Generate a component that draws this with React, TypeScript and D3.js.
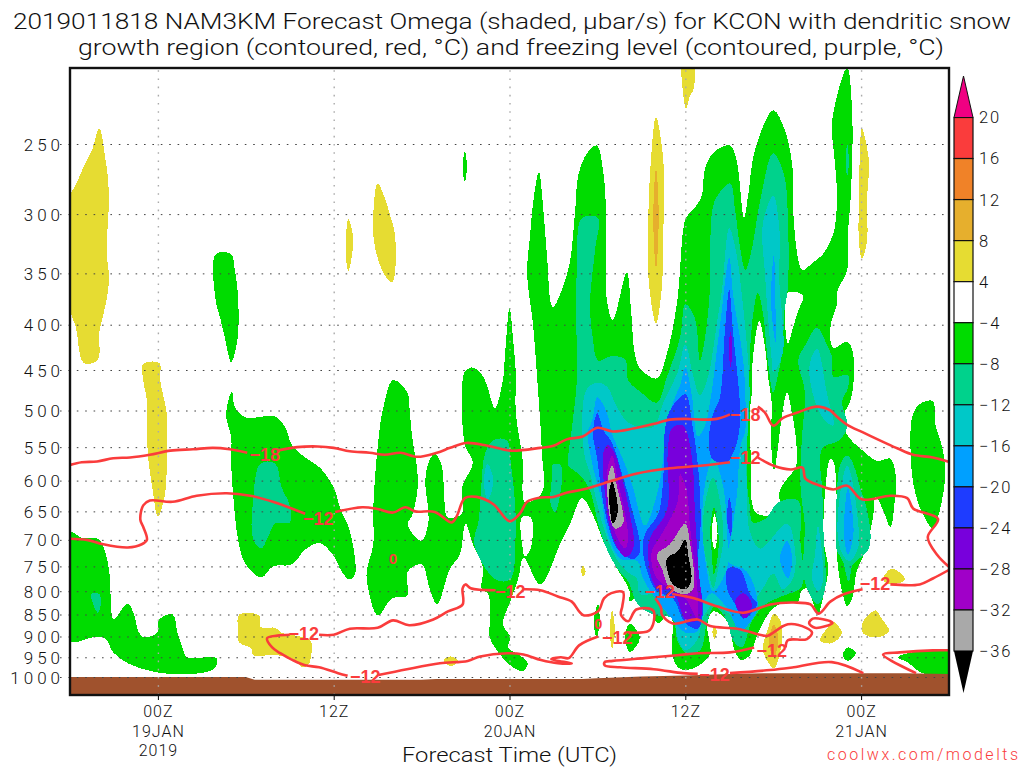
import { useEffect, useRef } from "react";
import * as d3 from "d3";

type Pt = [number, number]; // [hours since 18Z 18 Jan, hPa]

const pressureTicks = [250, 300, 350, 400, 450, 500, 550, 600, 650, 700, 750, 800, 850, 900, 950, 1000];
const timeTicks = [6, 18, 30, 42, 54];
const timeLabels = [["00Z", "19JAN", "2019"], ["12Z"], ["00Z", "20JAN"], ["12Z"], ["00Z", "21JAN"]];
const legendLabels = ["20", "16", "12", "8", "4", "−4", "−8", "−12", "−16", "−20", "−24", "−28", "−32", "−36"];
const legendColors = ["#fa3c3c", "#f08228", "#e6af2d", "#e6dc32", "#ffffff", "#00dc00", "#00d28c", "#00c8c8", "#00a0ff", "#1e3cff", "#7800dc", "#a000c8", "#a9a9a9"];

const surface: Pt[] = [[0, 1000], [12, 1000], [12.6, 1007], [24, 1007], [25, 1005], [35, 1005], [36, 1003], [39, 999], [42, 996], [45, 992], [48, 990], [57, 990], [60, 992]];

// omega +4 to +8
const yellowAreas: Pt[][] = [
  [[2, 240], [1.5, 254], [0.9, 266], [0.35, 279], [0, 286], [0, 383], [0.4, 403], [0.95, 442], [1.9, 438], [2, 408], [2.3, 388], [2.6, 366], [2.65, 350], [2.5, 332], [2.65, 292], [2.6, 274], [2.4, 259]],
  [[5, 443], [6.1, 442], [6.15, 462], [6.6, 504], [6.6, 556], [6.5, 620], [6, 659], [5.65, 616], [5.3, 556], [5.25, 488], [5, 462]],
  [[19, 304], [19.3, 316], [19.3, 329], [19, 348], [18.85, 338], [18.85, 316]],
  [[21, 277], [20.7, 301], [20.8, 326], [21.5, 352], [22, 358], [22.2, 318], [21.85, 301], [21.5, 288]],
  [[40, 233], [39.65, 261], [39.45, 316], [39.5, 357], [40, 399], [40.4, 363], [40.5, 316], [40.5, 261]],
  [[41.85, 200], [41.85, 219], [42.05, 228], [42.3, 221], [42.55, 217], [42.55, 200]],
  [[54.05, 240], [54.4, 252], [54.55, 265], [54.4, 288], [54.4, 322], [54.05, 337], [53.85, 322], [53.85, 288], [53.9, 261]],
  [[11.55, 850], [12.9, 852], [13, 878], [14, 880], [14.45, 891], [16.4, 909], [16.5, 933], [16.25, 970], [15.9, 975], [15, 950], [13.65, 945], [12.5, 945], [12.4, 929], [11.55, 914], [11.45, 880]],
  [[25.5, 957], [26, 948], [26.5, 959], [26, 972]],
  [[35, 748], [35.2, 760], [35, 770], [34.9, 760]],
  [[37, 841], [37.2, 887], [37, 929], [36.85, 887]],
  [[44, 875], [44.15, 890], [44, 905], [43.85, 890]],
  [[48.05, 848], [48.5, 865], [48.6, 909], [48.05, 977], [47.3, 933], [47.6, 887]],
  [[52, 865], [52.7, 891], [52, 916], [51.2, 909], [51.7, 880]],
  [[55, 841], [55.4, 859], [55.9, 887], [55.15, 902], [54.15, 893], [54.05, 872], [54.4, 854]],
  [[56.1, 754], [57, 776], [56, 786], [55.5, 776]],
];
// omega +8 to +12
const goldAreas: Pt[][] = [
  [[40, 267], [39.85, 285], [39.85, 322], [40, 345], [40.15, 322], [40.15, 285]],
  [[48.05, 872], [48.35, 905], [48.05, 950], [47.7, 915]],
];

// omega -4 to -8
const greenAreas: Pt[][] = [
  [[26.95, 255], [27.1, 265], [26.95, 276], [26.8, 265]],
  [[9.95, 333], [11, 333], [11.25, 347], [11.45, 368], [11.45, 413], [11, 441], [10.6, 416], [10.25, 393], [9.95, 376]],
  [[0, 686], [0.8, 696], [1.9, 698], [2.4, 722], [2.7, 766], [2.85, 850], [3, 861], [3.95, 826], [4.45, 859], [4.65, 887], [5.05, 902], [5.95, 891], [6.1, 861], [7, 850], [7.35, 893], [7.7, 929], [8, 950], [10, 952], [9.9, 977], [8.9, 990], [7, 992], [5.8, 987], [3.95, 965], [2.95, 938], [2.4, 904], [1.55, 902], [0, 911]],
  [[11.05, 476], [11.25, 495], [11.95, 509], [14, 508], [14.7, 523], [15.15, 547], [16.05, 565], [17.05, 580], [18, 611], [18.45, 645], [19.1, 684], [19.45, 766], [19.05, 776], [18.55, 760], [17.95, 728], [17.05, 706], [16.05, 718], [15.15, 746], [13.85, 750], [13.05, 772], [11.95, 744], [11.45, 696], [11.25, 654], [11, 574], [11, 535], [10.65, 506]],
  [[22.05, 462], [23, 476], [23.2, 504], [23.35, 535], [23.75, 600], [23.4, 654], [23.05, 673], [24, 702], [24.45, 671], [24.45, 648], [24.25, 600], [24.45, 574], [24.9, 559], [25.4, 579], [25.5, 605], [25.6, 644], [25.75, 660], [26.75, 654], [26.75, 611], [27.5, 572], [27, 550], [26.75, 504], [26.8, 462], [26.95, 452], [27.45, 447], [28.1, 455], [28.45, 468], [29, 497], [29.55, 462], [29.7, 431], [30, 383], [30.25, 416], [30.45, 462], [30.4, 488], [30.5, 516], [30.9, 569], [30.9, 620], [31.05, 635], [32.2, 620], [32.2, 554], [31.9, 462], [31.6, 399], [31.2, 350], [31.4, 318], [31.6, 292], [32, 269], [32.3, 295], [32.55, 333], [32.95, 382], [34, 347], [34.45, 302], [34.7, 271], [35.3, 256], [35.95, 251], [36.4, 269], [36.6, 302], [36.65, 376], [37.05, 395], [38, 349], [38.3, 386], [38.55, 431], [38.9, 448], [40.05, 460], [40.75, 431], [41.45, 376], [41.85, 313], [42.05, 303], [42.85, 292], [43.15, 285], [43.35, 266], [44, 255], [45.05, 251], [45.5, 261], [46, 303], [46.3, 285], [46.75, 254], [48, 229], [48.75, 240], [49.3, 264], [49.35, 295], [49.7, 337], [50, 347], [50.65, 341], [51.4, 333], [51.9, 322], [52.2, 311], [52.35, 285], [52.15, 256], [52, 239], [52.4, 219], [53.05, 205], [53.4, 234], [53.3, 285], [53.1, 316], [53.05, 347], [52.4, 366], [52.35, 379], [51.9, 403], [52.1, 425], [53.05, 418], [53.45, 431], [53.45, 471], [53.25, 488], [52.7, 513], [53.15, 536], [53.95, 552], [55.1, 570], [56, 567], [56.4, 600], [56.3, 632], [56, 677], [55.5, 648], [55, 625], [54.8, 663], [54.25, 722], [53.7, 760], [53.4, 814], [53.05, 832], [52.7, 800], [52.35, 728], [52.35, 644], [52.1, 570], [51.9, 567], [51.55, 616], [51.45, 702], [51.75, 754], [51.45, 806], [51.05, 850], [50.7, 822], [50.3, 794], [49.9, 800], [49.7, 822], [48.65, 824], [47.8, 843], [46.9, 898], [46.4, 945], [45.85, 957], [45.4, 938], [44.85, 865], [43.9, 843], [43.5, 872], [43.7, 940], [43.15, 965], [42.1, 982], [41.5, 975], [41.1, 940], [41.15, 872], [40.95, 843], [40.15, 870], [39.6, 836], [39.05, 806], [38.2, 822], [38.2, 800], [37.05, 740], [36.3, 696], [35.85, 665], [34.95, 628], [34.15, 671], [33.45, 708], [32.1, 786], [31.05, 735], [30.9, 735], [30.6, 774], [30.05, 822], [29.55, 872], [30.05, 902], [29.9, 926], [30.7, 945], [31.25, 965], [30.9, 985], [30.05, 970], [29.5, 950], [29, 926], [28.65, 902], [28.65, 865], [28.55, 806], [28.1, 794], [28.2, 754], [27.5, 708], [27, 671], [26.6, 728], [25.95, 754], [25.05, 828], [24.55, 794], [24, 746], [23.05, 760], [23, 810], [22, 815], [21, 852], [20.35, 794], [20.25, 760], [20.7, 708], [20.7, 644], [21.05, 540], [21.4, 495]],
  [[36.05, 826], [36.15, 865], [35.95, 904], [35.75, 865]],
  [[38.2, 870], [38.9, 904], [38.2, 938], [37.9, 902]],
  [[53.1, 926], [53.65, 940], [53.1, 959], [52.75, 945]],
  [[58.9, 488], [59.05, 518], [59.5, 547], [59.75, 589], [59.25, 660], [58.9, 680], [58.2, 654], [57.7, 620], [57.4, 569], [57.55, 504], [58.15, 490]],
  [[56.5, 950], [57.55, 938], [60.2, 938], [60.2, 990], [58.2, 990], [57.15, 962]],
];
// weak omega pockets inside the green area
const calmPockets: Pt[][] = [
  [[49, 368], [50.05, 371], [49.7, 386], [49.35, 403], [49, 421]],
  [[47.05, 396], [47.45, 425], [47.65, 458], [47.9, 490], [47.85, 540], [48.05, 584], [48.35, 547], [48.55, 513], [48.95, 477], [49.3, 506], [49.5, 529], [49.55, 579], [48.95, 597], [48.45, 616], [48.35, 654], [46.9, 654], [46.55, 636], [46.5, 584], [46.4, 504], [46.55, 475], [46.6, 439]],
  [[30.85, 660], [31.45, 660], [31.45, 716], [31.05, 731], [30.9, 716]],
];
// omega -8 to -12
const tealAreas: Pt[][] = [
  [[1.45, 806], [2, 806], [2.1, 828], [1.9, 846], [1.65, 833]],
  [[13, 574], [14, 574], [14.45, 611], [15, 640], [15, 669], [14, 671], [13.5, 696], [13.05, 716], [12.5, 698], [12.5, 632]],
  [[28.9, 540], [29.8, 540], [30.1, 575], [30.4, 646], [30.4, 702], [30.05, 776], [29.05, 776], [27.6, 708], [27.9, 665], [28.05, 616], [28.35, 558]],
  [[32.95, 576], [33.5, 576], [33.5, 616], [33.1, 652], [32.8, 636], [32.9, 595]],
  [[34.95, 303], [36.05, 303], [35.85, 328], [35.5, 379], [35.7, 416], [36.05, 439], [37, 434], [37.9, 438], [38.1, 462], [39.05, 478], [40.05, 490], [40.75, 458], [41.65, 413], [42, 379], [42.65, 393], [43, 439], [43.5, 396], [43.7, 357], [43.7, 328], [44, 290], [45.05, 277], [45.4, 297], [45.75, 328], [46.1, 347], [46.55, 328], [47.1, 290], [48, 256], [48.75, 271], [49, 303], [49, 363], [48.75, 388], [48.65, 425], [48.35, 454], [48, 477], [47.65, 442], [47.3, 388], [46.95, 368], [46.55, 399], [46.4, 442], [46.3, 504], [46.2, 600], [46.4, 640], [46.6, 669], [47.45, 663], [48.35, 635], [49.7, 632], [49.85, 702], [49.95, 790], [48.65, 810], [47.45, 828], [46.55, 865], [45.85, 926], [45.25, 909], [44.85, 865], [44, 832], [43.5, 865], [43, 933], [42.1, 940], [41.45, 909], [41.15, 859], [39.8, 850], [38.75, 828], [38.1, 780], [37.35, 754], [36.5, 708], [36.05, 671], [35.5, 616], [34.95, 595], [34.15, 580], [34, 577], [34.25, 525], [34.6, 462], [34.55, 393], [34.6, 345]],
  [[51, 403], [51.65, 421], [52, 434], [52.1, 458], [53.1, 456], [53.1, 472], [52.7, 488], [53.05, 520], [52.55, 540], [51.4, 550], [51.2, 565], [51.35, 616], [51.45, 702], [51.55, 794], [51.05, 828], [50.15, 780], [50.15, 671], [49.95, 632], [49.85, 600], [49.95, 540], [50.15, 475], [49.7, 439], [50.15, 423]],
  [[53.05, 562], [53.45, 574], [54.05, 620], [54.25, 632], [54.65, 696], [54.4, 722], [53.45, 746], [53.15, 780], [52.75, 740], [52.3, 716], [52.3, 689], [52.35, 616], [52.6, 574]],
  [[53.05, 250], [53.17, 262], [53.05, 272], [52.95, 262]],
];
// omega -12 to -16
const cyanAreas: Pt[][] = [
  [[28.5, 574], [28.9, 600], [28.5, 632], [28.25, 600]],
  [[35.3, 472], [36.05, 465], [36.7, 471], [37.2, 490], [38.1, 516], [39.8, 522], [40.5, 490], [41.45, 454], [42, 421], [42.55, 458], [43, 481], [43.55, 458], [44.15, 399], [44.5, 366], [45, 311], [45.5, 333], [45.85, 369], [46.2, 421], [46.4, 477], [46.2, 550], [46.2, 616], [46.4, 684], [47.1, 716], [48.95, 671], [49.5, 722], [49.35, 774], [48.65, 796], [48, 764], [47.3, 794], [46.6, 828], [45.95, 872], [45.5, 859], [44.35, 836], [43.9, 828], [43.2, 859], [42.8, 909], [42, 933], [41.45, 900], [41.15, 836], [40.3, 806], [38.9, 806], [38.7, 774], [38.2, 764], [37.55, 746], [36.65, 696], [36.05, 644], [35.5, 589], [35.15, 565], [34.95, 513]],
  [[48, 286], [48.45, 316], [48.4, 353], [48.65, 431], [48, 453], [47.9, 439], [47.65, 393], [47.45, 353], [47.3, 307]],
  [[51, 426], [51.65, 477], [52.1, 520], [51.4, 510], [50.65, 475], [50.5, 442]],
  [[51.05, 675], [51.35, 732], [51.35, 786], [51.05, 800], [50.65, 774], [50.85, 728]],
  [[53.05, 577], [53.4, 600], [53.8, 671], [53.85, 708], [53.25, 740], [52.75, 728], [52.4, 689], [52.6, 616]],
];
// omega -16 to -20
const skyAreas: Pt[][] = [
  [[36, 483], [36.65, 503], [37, 532], [37.7, 565], [38.4, 608], [38.9, 656], [39.25, 675], [39.95, 632], [40.4, 584], [40.6, 540], [41.1, 493], [41.65, 468], [42, 447], [42.45, 481], [42.85, 535], [43.35, 520], [43.7, 488], [44.35, 403], [45, 336], [45.25, 369], [45.95, 439], [46.1, 484], [46.1, 526], [45.75, 550], [45.55, 616], [45.15, 693], [44.9, 740], [46.2, 760], [46.95, 828], [46.6, 859], [45.75, 887], [44.85, 836], [43.8, 804], [43.2, 828], [42.85, 887], [42, 891], [40.95, 854], [39.95, 815], [39.05, 770], [38.75, 740], [37.55, 735], [36.65, 684], [36.3, 632], [35.7, 580], [35.35, 529], [35.65, 513]],
  [[48.05, 333], [48.15, 376], [48.15, 419], [47.85, 376]],
  [[48.95, 702], [49.3, 735], [49, 774], [48.45, 735]],
  [[53.1, 611], [53.45, 663], [53.45, 696], [53.1, 728], [52.85, 696], [52.9, 644]],
];
// the island of weaker ascent near 700 hPa at 14Z
const islandCyan: Pt[] = [[43.9, 565], [44.6, 611], [44.85, 689], [44.85, 754], [43.9, 800], [43.35, 735], [43.15, 671], [43.35, 605]];
const islandTeal: Pt[] = [[43.9, 595], [44.35, 632], [44.6, 696], [44.25, 754], [43.9, 794], [43.55, 754], [43.2, 696], [43.35, 636]];
const islandGreen: Pt[] = [[43.95, 643], [44.25, 684], [44.25, 722], [43.95, 766], [43.8, 722], [43.7, 684]];
const islandWhite: Pt[] = [[44, 655], [44.2, 689], [44, 718], [43.8, 689]];
// omega -20 to -24
const blueAreas: Pt[][] = [
  [[36, 503], [36.4, 526], [37, 544], [37.75, 595], [38.2, 632], [38.9, 722], [38.45, 736], [37.35, 716], [36.85, 684], [36.4, 636], [36, 569], [35.7, 529]],
  [[42, 479], [42.45, 516], [42.85, 574], [43.05, 671], [42.85, 746], [43.2, 828], [43.15, 859], [42.85, 882], [42, 869], [41.15, 815], [40.05, 800], [39.4, 760], [39.1, 716], [39.25, 689], [40.15, 654], [40.5, 595], [40.6, 527], [40.95, 500]],
  [[45, 365], [45.25, 407], [45.55, 454], [45.75, 504], [45.6, 538], [45.25, 559], [44.85, 572], [43.9, 569], [43.6, 544], [43.9, 504], [44.35, 484], [44.7, 407]],
  [[45, 627], [45.2, 657], [45.1, 693], [44.85, 665]],
  [[44.9, 754], [45.75, 756], [46.4, 806], [46.9, 828], [45.95, 859], [45.4, 828], [44.85, 794]],
];
// omega -24 to -28
const violetAreas: Pt[][] = [
  [[36.7, 547], [37.2, 559], [37.55, 584], [38.1, 640], [38.45, 716], [37.9, 732], [37.05, 696], [36.5, 616], [36.4, 559]],
  [[41.85, 520], [42.45, 565], [42.65, 648], [42.85, 740], [43, 859], [42.1, 865], [41.15, 800], [40.05, 794], [39.45, 728], [39.6, 696], [40.75, 648], [40.8, 559], [41.1, 523]],
  [[45.95, 804], [46.55, 828], [46.1, 859], [45.4, 822]],
  [[45.1, 407], [45.2, 425], [45.1, 447], [44.95, 425]],
];
// omega -28 to -32
const magentaAreas: Pt[][] = [
  [[37, 562], [37.35, 595], [38.1, 696], [37.9, 716], [37.35, 696], [36.85, 657], [36.65, 589]],
  [[41.65, 590], [42.1, 616], [42.3, 671], [42.85, 810], [42.8, 859], [42, 815], [40.05, 774], [39.7, 722], [40.25, 696], [41.45, 636]],
];
// omega -32 to -36
const grayAreas: Pt[][] = [
  [[37, 577], [37.35, 611], [37.75, 671], [37.2, 680], [36.85, 660], [36.7, 600]],
  [[42, 671], [42.3, 702], [42.55, 794], [42.1, 806], [40.95, 794], [40.4, 754], [40.05, 728], [40.95, 708]],
];
// omega below -36
const blackAreas: Pt[][] = [
  [[37, 602], [37.35, 632], [37.35, 657], [37.05, 671], [36.85, 645], [36.8, 616]],
  [[42, 700], [42.2, 728], [42.4, 780], [42, 796], [41.15, 786], [40.75, 754], [40.75, 734], [41.45, 722]],
];

// temperature contours, broken where the labels sit
const contourMinus18: Pt[][] = [
  [[0, 576], [0.8, 572], [1.85, 571], [2.95, 566], [4.1, 565], [5.45, 561], [6.85, 555], [8.4, 553], [9.75, 551], [10.9, 553], [12.1, 558]],
  [[14.15, 555], [15.5, 550], [16.9, 549], [18, 551], [19.1, 556], [20.45, 558], [21.5, 561], [22.55, 558], [23.7, 564], [25.05, 558], [25.95, 551], [27.05, 544], [28.5, 548], [30.05, 555], [32.1, 551], [33, 548], [33.9, 539], [35, 535], [36, 523], [37.05, 528], [38.45, 524], [39.8, 518], [40.95, 512], [42, 511], [43.2, 512], [44.15, 511], [45.05, 505]],
  [[46.95, 495], [47.45, 503], [48, 520], [48.65, 510], [49.6, 503], [51, 495], [51.9, 500], [52.4, 509], [53.05, 519], [54.2, 530], [56.5, 552], [57.55, 561], [58.9, 565], [60.1, 572]],
];
const contourMinus12: Pt[][] = [
  [[0.05, 698], [1.15, 700], [2.25, 708], [3.95, 714], [4.9, 708], [5.25, 700], [5, 677], [4.8, 664], [5, 640], [5.45, 632], [7, 634], [8.65, 624], [10.7, 620], [12.3, 624], [13.85, 634], [16.05, 654]],
  [[18.1, 651], [19.95, 643], [21, 646], [22.05, 652], [22.9, 643], [23.55, 650], [24.9, 651], [26.05, 669], [26.4, 658], [26.95, 628], [27.75, 626], [28.9, 638], [30, 667], [30.7, 654], [31.2, 634], [32.1, 627], [33, 626], [33.95, 619], [35, 614], [37.05, 600], [38.7, 589], [40.95, 581], [43.2, 577], [45.05, 572]],
  [[46.95, 565], [48, 577], [49.2, 583], [50, 580], [50.2, 597], [51.2, 608], [52.1, 614], [53.05, 608], [54.05, 630], [56, 624], [57.15, 628], [57.55, 645], [59.25, 663], [58.55, 695], [59.2, 728], [60.05, 752]],
  [[60.05, 756], [58.9, 774], [58, 786], [56, 786]],
  [[54.1, 796], [52.85, 806], [51.9, 822], [51.1, 848], [50.55, 828], [49.4, 824], [47.8, 828], [45.95, 846], [44.15, 832], [42.6, 815], [41.1, 806]],
  [[39.95, 815], [40.35, 836], [40.4, 850], [41.15, 870], [42.85, 861], [43.7, 876], [45.55, 882], [47.35, 898], [47.65, 898], [49, 872], [50.25, 880], [50.65, 891], [50.3, 906], [49, 909], [48.85, 926]],
  [[46.7, 926], [45.05, 938], [42.8, 940], [41.45, 945], [39.2, 952], [37.05, 959], [36.5, 962], [36.5, 970], [37.55, 975], [39.85, 980], [41.85, 990], [42.85, 992]],
  [[45.05, 990], [47.8, 982], [49.4, 975], [52, 962], [54.15, 990]],
  [[57.75, 990], [55.5, 943], [56.65, 938], [58.9, 933], [60.05, 933]],
  [[51.1, 859], [51.9, 865], [52.05, 869], [50.85, 880], [50.45, 869], [50.7, 859], [51.1, 859]],
  [[30.95, 796], [32.1, 798], [33.3, 811], [34.25, 822], [34.75, 843], [35.1, 852], [36.05, 843], [36.45, 815], [36.95, 804], [37.75, 802], [37.7, 832], [37.6, 850], [38.1, 865], [38.65, 839], [39.8, 841], [39.8, 872], [39.5, 887], [38.1, 891]],
  [[36.05, 900], [34.75, 921], [34.05, 952], [33.5, 950], [32.85, 955], [34.25, 965], [33.3, 965], [32.15, 957], [30.95, 943], [29.85, 940], [28, 948], [27.15, 959], [25.25, 965], [23, 980], [21.05, 995]],
  [[18.95, 997], [18.3, 990], [17, 975], [16.05, 970], [15.2, 957], [14.35, 940], [13.8, 926], [13.45, 904], [14.15, 898], [15, 896]],
  [[17, 896], [18, 896], [19.1, 882], [21, 880], [22.05, 863], [23.15, 874], [24.8, 861], [25.8, 843], [26.8, 828], [26.8, 794], [27, 786], [27.35, 794], [29.05, 798]],
];
const contourLabels: [number, number, string][] = [
  [13.3, 561, "−18"], [46.1, 505, "−18"],
  [16.95, 663, "−12"], [46.1, 565, "−12"], [30.05, 800, "−12"], [40.25, 800, "−12"], [54.95, 784, "−12"],
  [15.95, 893, "−12"], [20.15, 1000, "−12"], [37.35, 902, "−12"], [47.9, 933, "−12"], [44, 994, "−12"],
  [22.05, 734, "0"], [36.05, 870, "0"],
];

const W = 1024;
const H = 768;
const plot = { left: 70, right: 949, top: 68, bottom: 695 };
const RED = "#fa3c3c";
const FONT = "Roboto, 'Liberation Sans', sans-serif";

export default function App() {
  const svgRef = useRef<SVGSVGElement | null>(null);

  useEffect(() => {
    const svg = d3.select(svgRef.current);
    svg.selectAll("*").remove();

    const x = d3.scaleLinear().domain([0, 60]).range([plot.left, plot.right]);
    // 250 and 1000 hPa gridlines sit at these rows, the rest extrapolates
    const y = d3.scaleLog().domain([250, 1000]).range([144, 677]);
    const pw = plot.right - plot.left;
    const ph = plot.bottom - plot.top;

    const defs = svg.append("defs");
    defs.append("clipPath").attr("id", "plot-clip").append("rect")
      .attr("x", plot.left).attr("y", plot.top).attr("width", pw).attr("height", ph);

    const blob = d3.line<Pt>().x((d) => x(d[0])).y((d) => y(d[1])).curve(d3.curveCatmullRomClosed.alpha(0.5));
    const contour = d3.line<Pt>().x((d) => x(d[0])).y((d) => y(d[1])).curve(d3.curveCatmullRom.alpha(0.5));

    const shades = svg.append("g").attr("clip-path", "url(#plot-clip)");
    const layers: [Pt[][], string][] = [
      [greenAreas, legendColors[5]],
      [calmPockets, "#ffffff"],
      [yellowAreas, legendColors[3]],
      [goldAreas, legendColors[2]],
      [tealAreas, legendColors[6]],
      [cyanAreas, legendColors[7]],
      [skyAreas, legendColors[8]],
      [[islandCyan], legendColors[7]],
      [[islandTeal], legendColors[6]],
      [[islandGreen], legendColors[5]],
      [[islandWhite], "#ffffff"],
      [blueAreas, legendColors[9]],
      [violetAreas, legendColors[10]],
      [magentaAreas, legendColors[11]],
      [grayAreas, legendColors[12]],
      [blackAreas, "#000000"],
    ];
    layers.forEach(([areas, color]) => {
      shades.selectAll(null).data(areas).join("path")
        .attr("d", (d) => blob(d))
        .attr("fill", color)
        .attr("shape-rendering", "crispEdges");
    });

    // ground below the model surface
    const ground = d3.area<Pt>().x((d) => x(d[0])).y0(plot.bottom).y1((d) => y(d[1]));
    shades.append("path").datum(surface).attr("d", ground).attr("fill", "#a0522d");

    // dotted grid on top of the shading
    const yAxis = svg.append("g")
      .attr("transform", `translate(${plot.left},0)`)
      .call(d3.axisLeft(y).tickValues(pressureTicks).tickFormat((d) => String(d)).tickSize(-pw).tickPadding(6));
    yAxis.select(".domain").remove();
    yAxis.selectAll(".tick line").attr("x1", -10).attr("stroke", "#444").attr("stroke-dasharray", "1.6 6.8");
    yAxis.selectAll(".tick text")
      .attr("font-family", FONT).attr("font-size", 17).attr("font-weight", 300).attr("fill", "#111")
      .attr("letter-spacing", 4).attr("dy", "0.36em");

    const xAxis = svg.append("g")
      .attr("transform", `translate(0,${plot.bottom})`)
      .call(d3.axisBottom(x).tickValues(timeTicks).tickFormat(() => "").tickSize(-ph));
    xAxis.select(".domain").remove();
    xAxis.selectAll(".tick line").attr("stroke", "#aaa").attr("stroke-width", 1.4).attr("stroke-dasharray", "1.6 6.6");
    xAxis.selectAll(".tick").append("line").attr("y1", 0).attr("y2", 5).attr("stroke", "#000");
    xAxis.selectAll(".tick").each(function (_d, i) {
      const rows = d3.select(this).selectAll("text.row").data(timeLabels[i]).join("text")
        .attr("class", "row")
        .attr("text-anchor", "middle")
        .attr("y", (_r, j) => 22 + j * 19.5)
        .attr("font-family", FONT).attr("font-size", 16).attr("font-weight", 300).attr("fill", "#111")
        .attr("letter-spacing", 1);
      rows.text((r) => r);
    });

    // red temperature contours
    const lines = svg.append("g").attr("clip-path", "url(#plot-clip)");
    lines.selectAll(null).data([...contourMinus18, ...contourMinus12]).join("path")
      .attr("d", (d) => contour(d))
      .attr("fill", "none").attr("stroke", RED).attr("stroke-width", 2.6);
    lines.selectAll(null).data(contourLabels).join("text")
      .attr("x", (d) => x(d[0])).attr("y", (d) => y(d[1]))
      .attr("dy", "0.36em").attr("text-anchor", "middle")
      .attr("font-family", "'Liberation Sans', sans-serif").attr("font-size", (d) => (d[2] === "0" ? 15 : 18)).attr("font-weight", 700)
      .attr("fill", RED)
      .text((d) => d[2]);

    // frame
    svg.append("rect")
      .attr("x", plot.left).attr("y", plot.top).attr("width", pw).attr("height", ph)
      .attr("fill", "none").attr("stroke", "#111").attr("stroke-width", 2.4);

    // colour bar
    const barLeft = 954;
    const barWidth = 19;
    const barY = d3.scaleLinear().domain([0, legendLabels.length - 1]).range([117.5, 651]);
    svg.selectAll(null).data(legendColors).join("rect")
      .attr("x", barLeft).attr("width", barWidth)
      .attr("y", (_d, i) => barY(i)).attr("height", barY(1) - barY(0))
      .attr("fill", (d) => d).attr("stroke", "#111").attr("stroke-width", 1.2);
    svg.append("path")
      .attr("d", d3.line()([[barLeft, barY(0)], [barLeft + barWidth / 2, 76], [barLeft + barWidth, barY(0)]]) + "Z")
      .attr("fill", "#f00082").attr("stroke", "#111");
    svg.append("path")
      .attr("d", d3.line()([[barLeft, barY(13)], [barLeft + barWidth / 2, 693], [barLeft + barWidth, barY(13)]]) + "Z")
      .attr("fill", "#000");
    svg.selectAll(null).data(legendLabels).join("text")
      .attr("x", 979).attr("y", (_d, i) => barY(i)).attr("dy", "0.36em")
      .attr("font-family", FONT).attr("font-size", 16.5).attr("font-weight", 300).attr("fill", "#111")
      .attr("letter-spacing", 1.9)
      .text((d) => d);

    // titles
    const title = (txt: string, x0: number, x1: number, base: number, size: number) =>
      svg.append("text").attr("x", x0).attr("y", base).attr("textLength", x1 - x0).attr("lengthAdjust", "spacingAndGlyphs")
        .attr("font-family", FONT).attr("font-size", size).attr("font-weight", 300).attr("fill", "#111").text(txt);
    title("2019011818 NAM3KM Forecast Omega (shaded, μbar/s) for KCON with dendritic snow", 13, 1011, 29, 22);
    title("growth region (contoured, red, °C) and freezing level (contoured, purple, °C)", 78, 944, 55, 22);
    title("Forecast Time (UTC)", 402, 617, 762, 20);
    svg.append("text").attr("x", 827).attr("y", 760).attr("textLength", 191).attr("lengthAdjust", "spacing")
      .attr("font-family", FONT).attr("font-size", 16).attr("font-weight", 300).attr("fill", RED)
      .text("coolwx.com/modelts");
  }, []);

  return <svg ref={svgRef} width={W} height={H} style={{ position: "absolute", left: 0, top: 0, background: "#fff" }} />;
}
